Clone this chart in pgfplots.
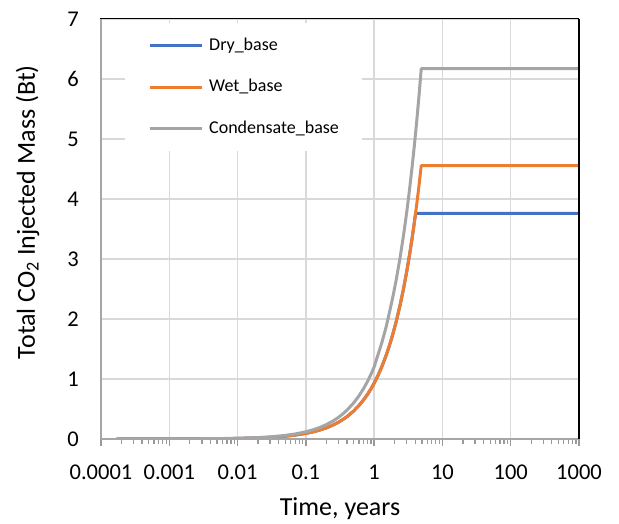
\documentclass[border=0pt]{standalone}
\usepackage{fontspec}
\setmainfont{Carlito}
\usepackage{pgfplots}
\pgfplotsset{compat=1.18}

\definecolor{drycol}{HTML}{4472C4}
\definecolor{wetcol}{HTML}{ED7D31}
\definecolor{condcol}{HTML}{A5A5A5}
\definecolor{gridcol}{HTML}{D9D9D9}
\definecolor{axiscol}{HTML}{A6A6A6}
\definecolor{tickcol}{HTML}{999999}

\newcommand{\tickfont}{\fontsize{22.5}{26}\selectfont}
\newcommand{\labfont}{\fontsize{26}{30}\selectfont}
\newcommand{\legfont}{\fontsize{18}{21}\selectfont}

\begin{document}
\begin{tikzpicture}
\begin{axis}[
    name=ax,
    scale only axis,
    width=478pt, height=420pt,
    xmode=log,
    xmin=1e-4, xmax=1000,
    ymin=0, ymax=7,
    xtick={1e-4,1e-3,1e-2,1e-1,1,10,100,1000},
    xticklabels={0.0001,0.001,0.01,0.1,1,10,100,1000},
    minor xtick={2e-4,3e-4,4e-4,5e-4,6e-4,7e-4,8e-4,9e-4,
                 2e-3,3e-3,4e-3,5e-3,6e-3,7e-3,8e-3,9e-3,
                 0.02,0.03,0.04,0.05,0.06,0.07,0.08,0.09,
                 0.2,0.3,0.4,0.5,0.6,0.7,0.8,0.9,
                 2,3,4,5,6,7,8,9,
                 20,30,40,50,60,70,80,90,
                 200,300,400,500,600,700,800,900},
    ytick={0,1,2,3,4,5,6,7},
    yticklabels={0,1,2,3,4,5,6,7},
    xtick pos=bottom,
    ytick pos=left,
    tick align=outside,
    major tick length=7pt,
    minor tick length=5pt,
    x tick style={tickcol, line width=1.3pt},
    minor x tick style={tickcol, line width=1.3pt},
    y tick style={draw=none},
    xmajorgrids, ymajorgrids,
    major grid style={gridcol, line width=1.3pt},
    minor grid style={draw=none},
    axis line style={black, line width=1pt},
    xticklabel style={font=\tickfont, anchor=north, inner sep=0pt, yshift=-19pt},
    yticklabel style={font=\tickfont, anchor=east, inner sep=0pt, xshift=-15pt},
    every axis x label/.style={at={(axis description cs:0.5,-0.1833)}, anchor=base, font=\labfont},
    every axis y label/.style={at={(axis description cs:-0.1381,0.540)}, rotate=90, anchor=base, font=\labfont},
    xlabel={Time, years},
    ylabel={Total CO\textsubscript{2} Injected Mass (Bt)},
    legend cell align=left,
    legend image code/.code={\draw[#1, line width=3pt] (0pt,0pt) -- (52pt,0pt);},
    legend style={
        at={(axis description cs:0.0502,0.990)}, anchor=north west,
        draw=none, fill=white, font=\legfont,
        inner xsep=23pt, inner ysep=14pt, row sep=24.5pt,
        nodes={inner sep=0pt, text height=13pt, text depth=4pt},
        /tikz/every odd column/.append style={column sep=6pt},
    },
]

% Dry_base
\addplot[drycol, line width=3pt, line join=round] coordinates {
    (0.00017,0.000158) (0.0003,0.00028) (0.0005,0.000465) (0.001,0.00093)
    (0.002,0.00186) (0.005,0.00465) (0.01,0.0093) (0.02,0.0186)
    (0.03,0.0279) (0.05,0.0465) (0.07,0.0651) (0.1,0.093)
    (0.13,0.121) (0.16,0.149) (0.2,0.186) (0.25,0.2325)
    (0.3,0.279) (0.35,0.3255) (0.4,0.372) (0.5,0.465)
    (0.6,0.558) (0.7,0.651) (0.8,0.744) (0.9,0.837)
    (1.0,0.93) (1.15,1.0695) (1.3,1.209) (1.5,1.395)
    (1.7,1.581) (1.9,1.767) (2.1,1.953) (2.4,2.232)
    (2.7,2.511) (3.0,2.79) (3.3,3.069) (3.6,3.348)
    (3.9,3.627) (4.05,3.76) (10,3.76) (100,3.76) (1000,3.76)
};
\addlegendentry{Dry\_base}

% Wet_base
\addplot[wetcol, line width=3pt, line join=round] coordinates {
    (0.00017,0.000158) (0.0003,0.00028) (0.0005,0.000465) (0.001,0.00093)
    (0.002,0.00186) (0.005,0.00465) (0.01,0.0093) (0.02,0.0186)
    (0.03,0.0279) (0.05,0.0465) (0.07,0.0651) (0.1,0.093)
    (0.13,0.121) (0.16,0.149) (0.2,0.186) (0.25,0.2325)
    (0.3,0.279) (0.35,0.3255) (0.4,0.372) (0.5,0.465)
    (0.6,0.558) (0.7,0.651) (0.8,0.744) (0.9,0.837)
    (1.0,0.93) (1.15,1.0695) (1.3,1.209) (1.5,1.395)
    (1.7,1.581) (1.9,1.767) (2.1,1.953) (2.4,2.232)
    (2.7,2.511) (3.0,2.79) (3.3,3.069) (3.6,3.348)
    (3.9,3.627) (4.2,3.906) (4.5,4.185) (4.9,4.557)
    (10,4.557) (100,4.557) (1000,4.557)
};
\addlegendentry{Wet\_base}

% Condensate_base
\addplot[condcol, line width=3pt, line join=round] coordinates {
    (0.00017,0.000204) (0.0003,0.00036) (0.0005,0.0006) (0.001,0.0012)
    (0.002,0.0024) (0.005,0.006) (0.01,0.012) (0.02,0.024)
    (0.03,0.036) (0.05,0.06) (0.07,0.084) (0.1,0.12)
    (0.13,0.156) (0.16,0.192) (0.2,0.24) (0.25,0.30)
    (0.3,0.36) (0.35,0.42) (0.4,0.48) (0.5,0.60)
    (0.6,0.72) (0.7,0.84) (0.8,0.96) (0.9,1.08)
    (1.0,1.20) (1.15,1.42) (1.3,1.61) (1.5,1.87)
    (1.7,2.142) (1.9,2.394) (2.1,2.646) (2.4,3.024)
    (2.7,3.402) (3.0,3.78) (3.3,4.158) (3.6,4.536)
    (3.9,4.914) (4.2,5.292) (4.5,5.67) (4.9,6.174)
    (10,6.174) (100,6.174) (1000,6.174)
};
\addlegendentry{Condensate\_base}

\coordinate (ll) at (axis description cs:0,0);
\coordinate (ur) at (axis description cs:1,1);
\end{axis}
% axis lines: left and bottom gray, right border heavier
\draw[axiscol, line width=1.5pt] (ll) -- (ll |- ur);
\draw[axiscol, line width=2pt] (ll) -- (ur |- ll);
\draw[black, line width=2pt] (ur) -- (ur |- ll);
\path ([shift={(-101pt,-85pt)}]ll) rectangle ([shift={(40pt,19pt)}]ur);
\end{tikzpicture}
\end{document}
